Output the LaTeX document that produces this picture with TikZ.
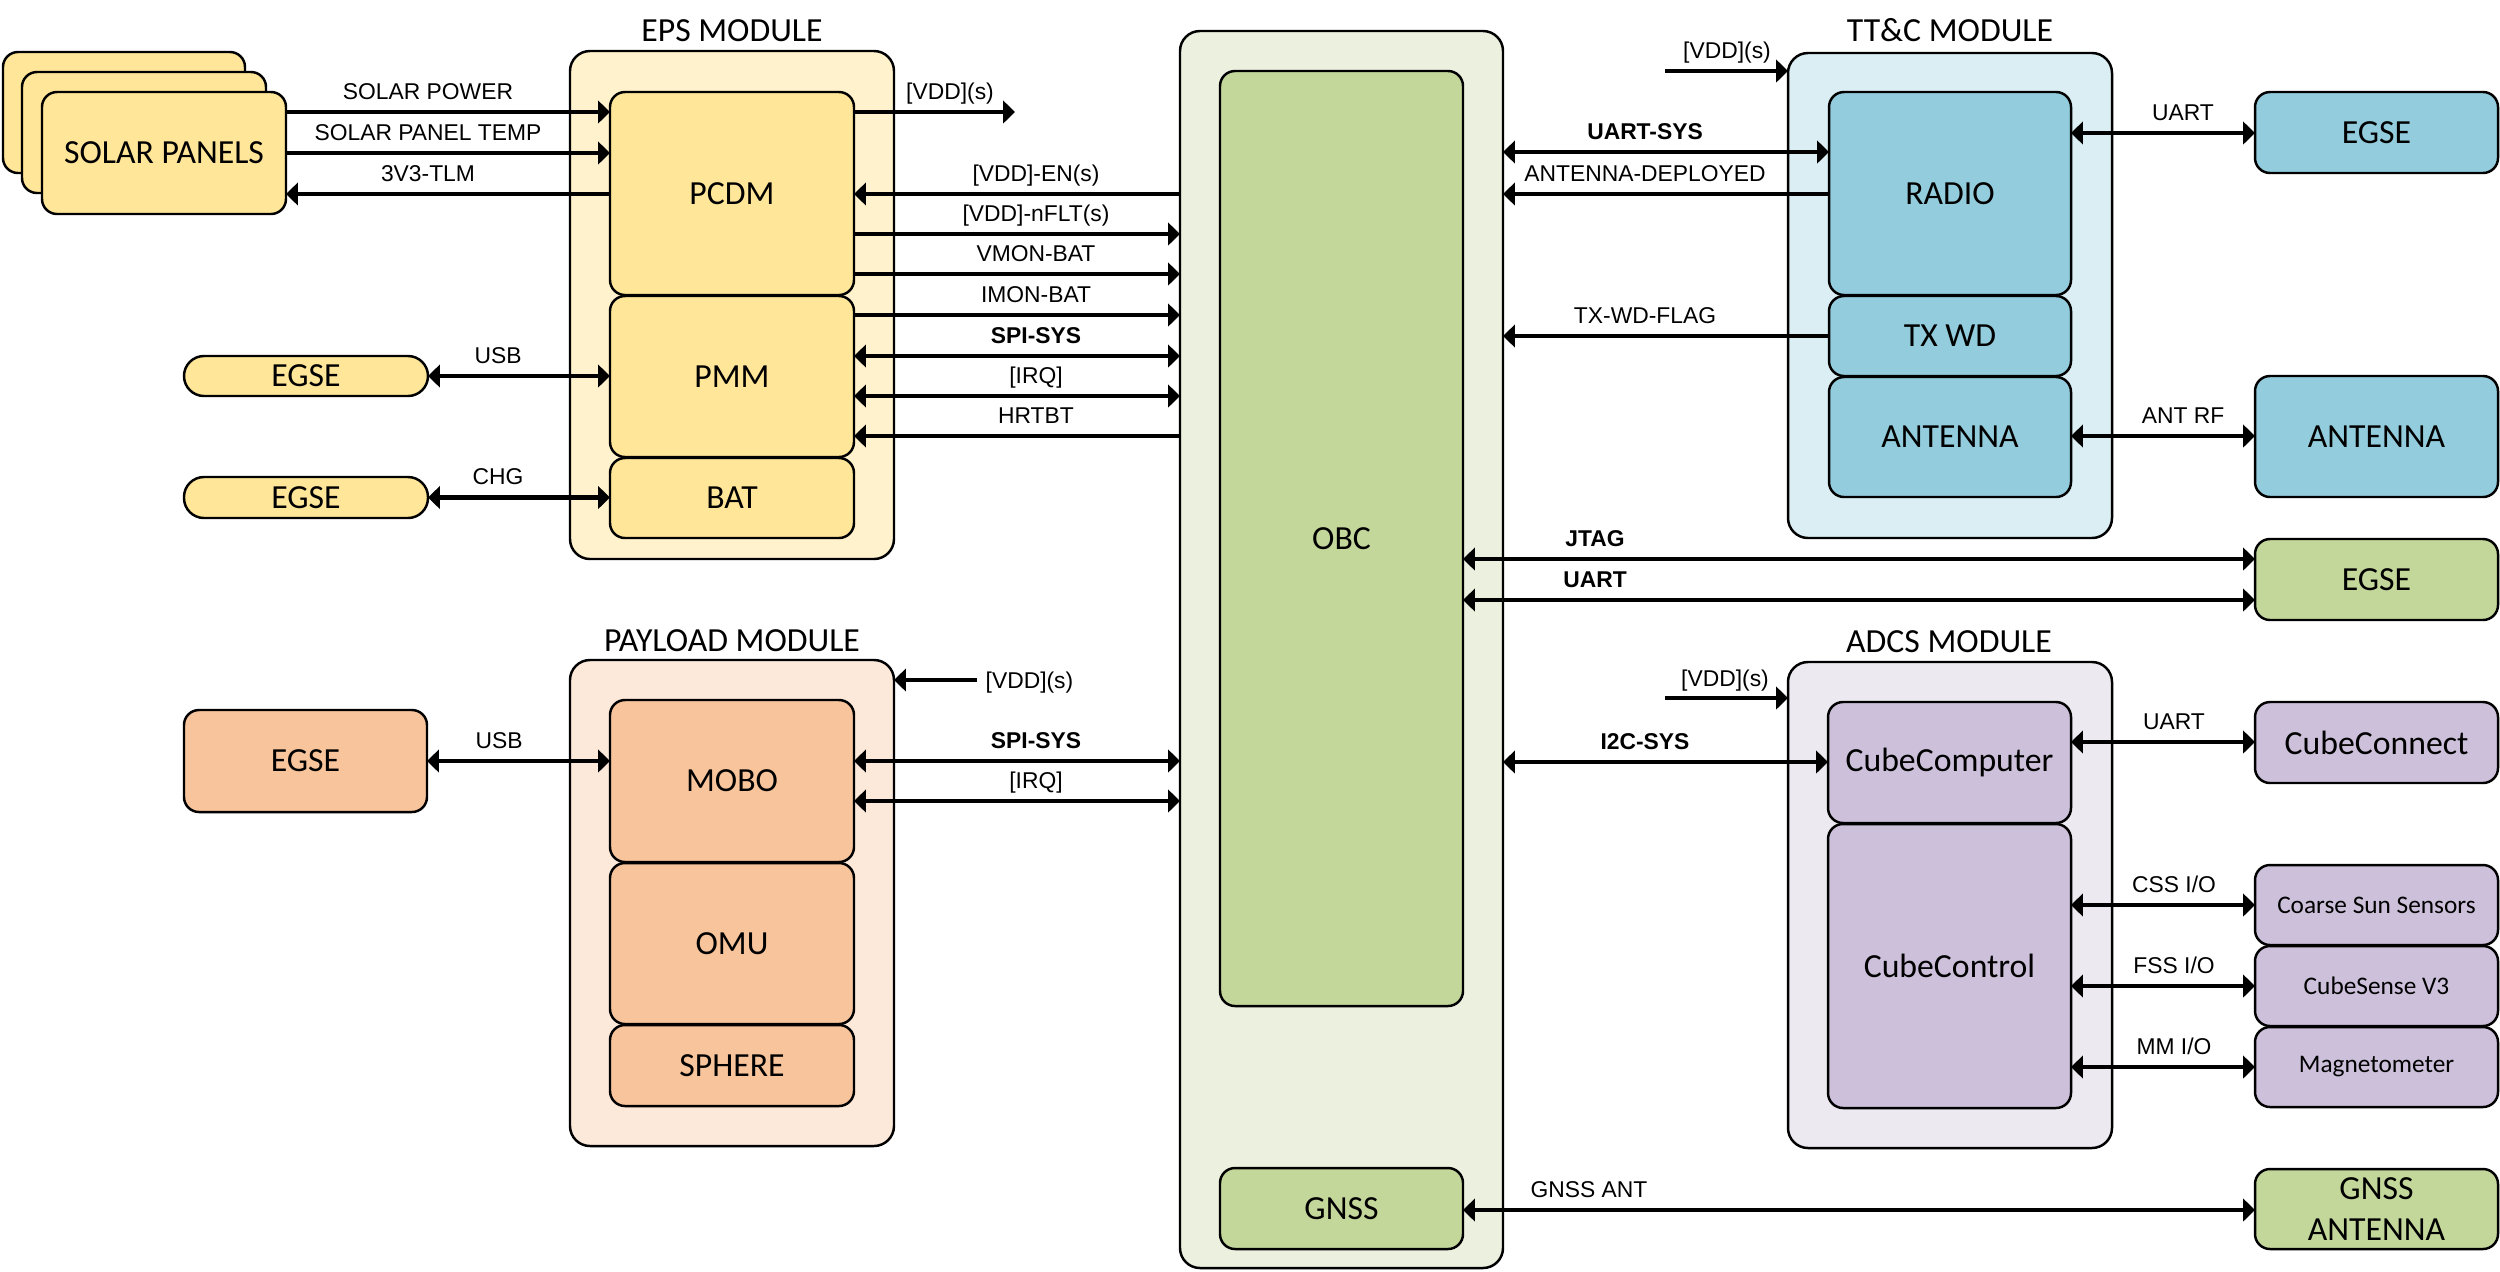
\documentclass[tikz,border=0pt]{standalone}
\usepackage{fontspec}
\setmainfont{Carlito}
\newfontfamily\labfont{Liberation Sans}
\usetikzlibrary{arrows.meta,fit}
\definecolor{epsO}{HTML}{FFF2CC}
\definecolor{epsI}{HTML}{FFE699}
\definecolor{obcO}{HTML}{EBF1DE}
\definecolor{obcI}{HTML}{C4D79B}
\definecolor{ttcO}{HTML}{DAEEF3}
\definecolor{ttcI}{HTML}{93CDDD}
\definecolor{plO}{HTML}{FCE9DA}
\definecolor{plI}{HTML}{F8C49C}
\definecolor{adO}{HTML}{ECE9F0}
\definecolor{adI}{HTML}{CCC0DA}
\begin{document}
\begin{tikzpicture}[x=0.1mm,y=-0.1mm,
  blk/.style={draw, line width=0.7pt, rounded corners=1.5mm, inner sep=0pt, outer sep=0pt},
  modbox/.style={blk, rounded corners=2mm},
  pill/.style={blk, rounded corners=2mm},
  bt/.style={font=\fontsize{9.6}{11.8}\selectfont, align=center, inner sep=0pt},
  st/.style={font=\fontsize{7.2}{8.8}\selectfont, align=center, inner sep=0pt},
  lbl/.style={font=\labfont\fontsize{6.5}{7.8}\selectfont, anchor=base, inner sep=0pt},
  blbl/.style={font=\labfont\bfseries\fontsize{6.5}{7.8}\selectfont, anchor=base, inner sep=0pt},
  ttl/.style={font=\fontsize{9.6}{11.8}\selectfont, anchor=base, inner sep=0pt},
  sig/.style={line width=1.3pt, >={Triangle[length=3.4pt,width=6.4pt]}},
]
\useasboundingbox (0,0) rectangle (2500,1271);

% ---------------- solar panels
\node[blk, fill=epsI, fit={(3,52) (245,173)}] (sp3) {};
\node[blk, fill=epsI, fit={(22,72) (266,193)}] (sp2) {};
\node[blk, fill=epsI, fit={(42,92) (286,214)}, label={[bt]center:SOLAR PANELS}] (sp) {};

% ---------------- EPS
\node[modbox, fill=epsO, fit={(570,51) (894,559)}] (eps) {};
\node[ttl] (epst) at (732,41) {EPS MODULE};
\node[blk, fill=epsI, fit={(610,92) (854,295)}, label={[bt]center:PCDM}] (pcdm) {};
\node[blk, fill=epsI, fit={(610,296) (854,457)}, label={[bt]center:PMM}] (pmm) {};
\node[blk, fill=epsI, fit={(610,458) (854,538)}, label={[bt]center:BAT}] (bat) {};
\node[pill, fill=epsI, fit={(184,356) (428,396)}, label={[bt]center:EGSE}] (egA) {};
\node[pill, fill=epsI, fit={(184,477) (428,518)}, label={[bt]center:EGSE}] (egB) {};

% ---------------- Payload
\node[modbox, fill=plO, fit={(570,660) (894,1146)}] (pl) {};
\node[ttl] (plt) at (732,651) {PAYLOAD MODULE};
\node[blk, fill=plI, fit={(610,700) (854,862)}, label={[bt]center:MOBO}] (mobo) {};
\node[blk, fill=plI, fit={(610,863) (854,1024)}, label={[bt]center:OMU}] (omu) {};
\node[blk, fill=plI, fit={(610,1025) (854,1106)}, label={[bt]center:SPHERE}] (sph) {};
\node[blk, fill=plI, fit={(184,710) (427,812)}, label={[bt]center:EGSE}] (egC) {};

% ---------------- OBC
\node[modbox, fill=obcO, fit={(1180,31) (1503,1268)}] (obcout) {};
\node[blk, fill=obcI, fit={(1220,71) (1463,1006)}, label={[bt]center:OBC}] (obc) {};
\node[blk, fill=obcI, fit={(1220,1168) (1463,1249)}, label={[bt]center:GNSS}] (gnss) {};

% ---------------- TT&C
\node[modbox, fill=ttcO, fit={(1788,53) (2112,538)}] (ttc) {};
\node[ttl] (ttct) at (1950,41) {TT\&C MODULE};
\node[blk, fill=ttcI, fit={(1829,92) (2071,295)}, label={[bt]center:RADIO}] (radio) {};
\node[blk, fill=ttcI, fit={(1829,296) (2071,376)}, label={[bt]center:TX WD}] (txwd) {};
\node[blk, fill=ttcI, fit={(1829,377) (2071,497)}, label={[bt]center:ANTENNA}] (antI) {};
\node[blk, fill=ttcI, fit={(2255,92) (2498,173)}, label={[bt]center:EGSE}] (egD) {};
\node[blk, fill=ttcI, fit={(2255,376) (2498,497)}, label={[bt]center:ANTENNA}] (antE) {};
\node[blk, fill=obcI, fit={(2255,539) (2498,620)}, label={[bt]center:EGSE}] (egE) {};

% ---------------- ADCS
\node[modbox, fill=adO, fit={(1788,662) (2112,1148)}] (adcs) {};
\node[ttl] (adcst) at (1949,652) {ADCS MODULE};
\node[blk, fill=adI, fit={(1828,702) (2071,823)}, label={[bt]center:CubeComputer}] (ccomp) {};
\node[blk, fill=adI, fit={(1828,824) (2071,1108)}, label={[bt]center:CubeControl}] (cctrl) {};
\node[blk, fill=adI, fit={(2255,702) (2498,783)}, label={[bt]center:CubeConnect}] (cconn) {};
\node[blk, fill=adI, fit={(2255,865) (2498,945)}, label={[st]center:Coarse Sun Sensors}] (css) {};
\node[blk, fill=adI, fit={(2255,946) (2498,1026)}, label={[st]center:CubeSense V3}] (csv) {};
\node[blk, fill=adI, fit={(2255,1027) (2498,1107)}, label={[st]center:Magnetometer}] (mag) {};
\node[blk, fill=obcI, fit={(2255,1169) (2498,1249)}, label={[bt]center:{GNSS\\ANTENNA}}] (gant) {};

% ---------------- free ends
\coordinate (vddA) at (1015,112);
\coordinate (vddB) at (977,680);
\coordinate (vddC) at (1665,71);
\coordinate (vddD) at (1665,698);

% ---------------- connectors
\draw[sig,->] (sp.east |- 0,112) -- (pcdm.west |- 0,112);
\draw[sig,->] (sp.east |- 0,153) -- (pcdm.west |- 0,153);
\draw[sig,->] (pcdm.west |- 0,194) -- (sp.east |- 0,194);
\draw[sig,<->] (egA.east) -- (pmm.west |- egA.east);
\draw[sig,<->] (egB.east) -- (bat.west |- egB.east);
\draw[sig,->] (pcdm.east |- vddA) -- (vddA);
\draw[sig,->] (obcout.west |- 0,194) -- (pcdm.east |- 0,194);
\draw[sig,->] (pcdm.east |- 0,234) -- (obcout.west |- 0,234);
\draw[sig,->] (pcdm.east |- 0,274) -- (obcout.west |- 0,274);
\draw[sig,->] (pmm.east |- 0,315) -- (obcout.west |- 0,315);
\draw[sig,<->] (pmm.east |- 0,356) -- (obcout.west |- 0,356);
\draw[sig,<->] (pmm.east |- 0,396) -- (obcout.west |- 0,396);
\draw[sig,->] (obcout.west |- 0,436) -- (pmm.east |- 0,436);

\draw[sig,->] (vddB) -- (pl.east |- vddB);
\draw[sig,<->] (egC.east |- 0,761) -- (mobo.west |- 0,761);
\draw[sig,<->] (mobo.east |- 0,761) -- (obcout.west |- 0,761);
\draw[sig,<->] (mobo.east |- 0,801) -- (obcout.west |- 0,801);

\draw[sig,->] (vddC) -- (ttc.west |- vddC);
\draw[sig,<->] (obcout.east |- 0,152) -- (radio.west |- 0,152);
\draw[sig,->] (radio.west |- 0,194) -- (obcout.east |- 0,194);
\draw[sig,->] (txwd.west |- 0,336) -- (obcout.east |- 0,336);
\draw[sig,<->] (radio.east |- 0,133) -- (egD.west |- 0,133);
\draw[sig,<->] (antI.east |- 0,436) -- (antE.west |- 0,436);
\draw[sig,<->] (obc.east |- 0,559) -- (egE.west |- 0,559);
\draw[sig,<->] (obc.east |- 0,600) -- (egE.west |- 0,600);

\draw[sig,->] (vddD) -- (adcs.west |- vddD);
\draw[sig,<->] (obcout.east |- 0,762) -- (ccomp.west |- 0,762);
\draw[sig,<->] (ccomp.east |- 0,742) -- (cconn.west |- 0,742);
\draw[sig,<->] (cctrl.east |- css.west) -- (css.west);
\draw[sig,<->] (cctrl.east |- csv.west) -- (csv.west);
\draw[sig,<->] (cctrl.east |- mag.west) -- (mag.west);
\draw[sig,<->] (gnss.east |- 0,1210) -- (gant.west |- 0,1210);

% ---------------- labels
\node[lbl] (l1) at (428,99) {SOLAR POWER};
\node[lbl] (l2) at (428,140) {SOLAR PANEL TEMP};
\node[lbl] (l3) at (428,181) {3V3-TLM};
\node[lbl] (l4) at (498,363) {USB};
\node[lbl] (l5) at (498,484) {CHG};
\node[lbl] (l6) at (950,99) {[VDD](s)};
\node[lbl] (l7) at (1036,181) {[VDD]-EN(s)};
\node[lbl] (l8) at (1036,221) {[VDD]-nFLT(s)};
\node[lbl] (l9) at (1036,261) {VMON-BAT};
\node[lbl] (l10) at (1036,302) {IMON-BAT};
\node[blbl] (l11) at (1036,343) {SPI-SYS};
\node[lbl] (l12) at (1036,383) {[IRQ]};
\node[lbl] (l13) at (1036,423) {HRTBT};
\node[lbl, anchor=base west] (l14) at (985,688) {[VDD](s)};
\node[lbl] (l15) at (499,748) {USB};
\node[blbl] (l16) at (1036,748) {SPI-SYS};
\node[lbl] (l17) at (1036,788) {[IRQ]};
\node[lbl] (l18) at (1727,58) {[VDD](s)};
\node[blbl] (l19) at (1645,139) {UART-SYS};
\node[lbl] (l20) at (1645,181) {ANTENNA-DEPLOYED};
\node[lbl] (l21) at (1645,323) {TX-WD-FLAG};
\node[lbl] (l22) at (2183,120) {UART};
\node[lbl] (l23) at (2183,423) {ANT RF};
\node[blbl] (l24) at (1595,546) {JTAG};
\node[blbl] (l25) at (1595,587) {UART};
\node[lbl] (l26) at (1725,686) {[VDD](s)};
\node[blbl] (l27) at (1645,749) {I2C-SYS};
\node[lbl] (l28) at (2174,729) {UART};
\node[lbl] (l29) at (2174,892) {CSS I/O};
\node[lbl] (l30) at (2174,973) {FSS I/O};
\node[lbl] (l31) at (2174,1054) {MM I/O};
\node[lbl] (l32) at (1589,1197) {GNSS ANT};
\end{tikzpicture}
\end{document}
